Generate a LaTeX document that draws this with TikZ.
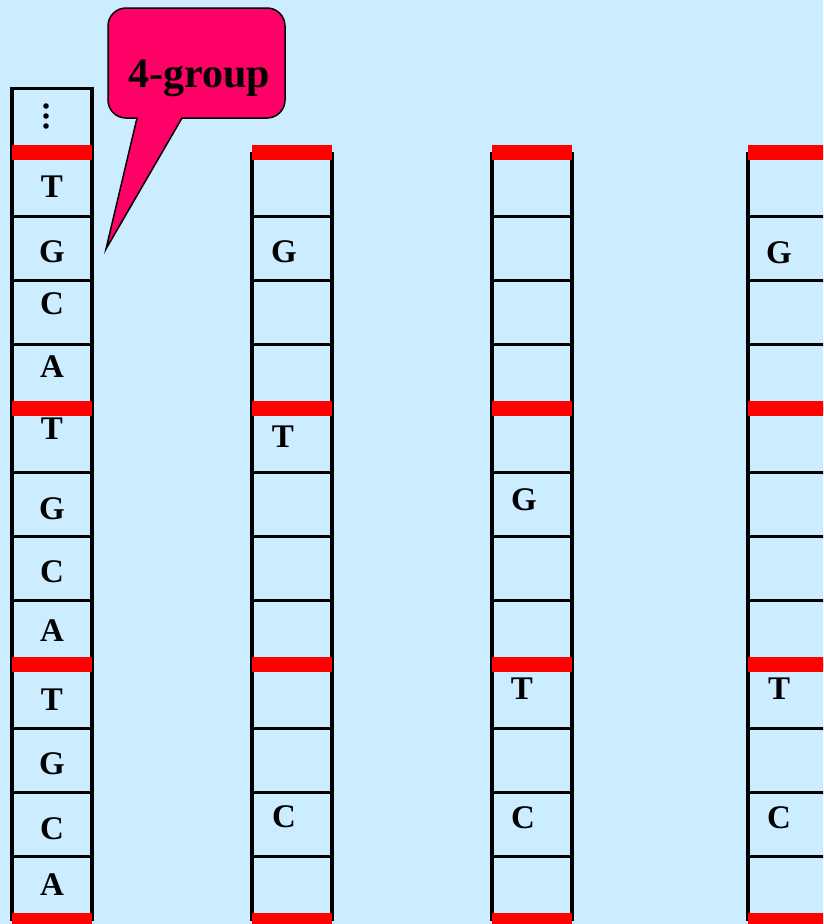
\documentclass[tikz,border=0pt]{standalone}
\usepackage{fontspec}
\setmainfont{Liberation Serif}
\definecolor{bgblue}{RGB}{204,236,255}
\definecolor{barred}{RGB}{255,0,0}
\definecolor{callpink}{RGB}{255,0,102}

\begin{document}
\begin{tikzpicture}[x=1pt,y=-1pt,every node/.style={font=\fontsize{33}{33}\selectfont\bfseries,inner sep=0pt},
  rail/.style={line width=3.5pt},rung/.style={line width=3pt}]
\fill[bgblue] (0,0) rectangle (823,924);\useasboundingbox (0,0) rectangle (823,924);\clip (0,0) rectangle (823,924);
\foreach \x/\t in {12/88,252/152,492/152,748/152}{
  \foreach \y in {216,280,...,856}{\draw[rung] (\x,\y)--(\x+80,\y);}
  \draw[rail] (\x,\t)--(\x,921);\draw[rail] (\x+80,\t)--(\x+80,921);
  \foreach \y in {152,408,664,920}{\fill[barred] (\x-.5,\y-7.5) rectangle (\x+80,\y+7.5);}
}
\draw[rung] (10.25,88)--(93.75,88);\foreach \y in {106,116,126}{\fill (46,\y) circle (2.8);}
\foreach \n/\l/\y in {1/T/187,2/G/252,3/C/304,4/A/367,5/T/429,6/G/509,7/C/572,8/A/631,9/T/700,10/G/764,11/C/829,12/A/885}{\node (a\n) at (52,\y) {\l};}
\node (b1) at (284,252) {G};\node (b2) at (283,437) {T};\node (b3) at (284,817) {C};
\node (c1) at (524,500) {G};\node (c2) at (522,689) {T};\node (c3) at (523,818) {C};
\node (d1) at (779,253) {G};\node (d2) at (779,689) {T};\node (d3) at (779,818) {C};
\draw[fill=callpink,line width=1.5pt] (182,118) -- (106,249) -- (137,118) [rounded corners=18] -- (108,118) -- (108,8) -- (285,8) -- (285,118) [sharp corners] -- cycle;
\node[font=\fontsize{42}{42}\selectfont\bfseries,anchor=base] (grp) at (199,87) {4-group};
\end{tikzpicture}
\end{document}
